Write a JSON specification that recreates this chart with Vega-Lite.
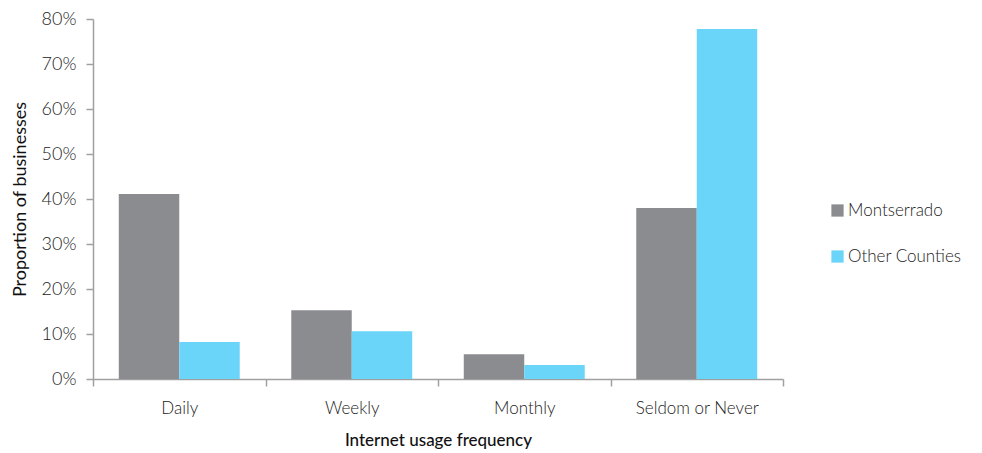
{
  "$schema": "https://vega.github.io/schema/vega-lite/v6.json",
  "width": 690,
  "height": 360,
  "autosize": {"type": "none"},
  "padding": {"left": 93, "top": 19, "right": 199, "bottom": 74},
  "background": "white",
  "data": {"values": [
    {"freq": "Daily", "group": "Montserrado", "value": 0.411},
    {"freq": "Daily", "group": "Other Counties", "value": 0.082},
    {"freq": "Weekly", "group": "Montserrado", "value": 0.153},
    {"freq": "Weekly", "group": "Other Counties", "value": 0.106},
    {"freq": "Monthly", "group": "Montserrado", "value": 0.055},
    {"freq": "Monthly", "group": "Other Counties", "value": 0.031},
    {"freq": "Seldom or Never", "group": "Montserrado", "value": 0.38},
    {"freq": "Seldom or Never", "group": "Other Counties", "value": 0.778}
  ]},
  "config": {
    "view": {"stroke": null},
    "font": "Lato",
    "axis": {"grid": false, "domainColor": "#A0A0A0", "tickColor": "#A0A0A0", "domainWidth": 1.5, "tickWidth": 1.5, "labelColor": "#222", "titleColor": "#111", "labelFont": "Lato", "titleFont": "Lato", "labelFontWeight": 300}
  },
  "mark": {"type": "bar"},
  "encoding": {
    "x": {"field": "freq", "type": "nominal", "sort": ["Daily", "Weekly", "Monthly", "Seldom or Never"],
      "scale": {"paddingInner": 0, "paddingOuter": 0},
      "axis": {"title": "Internet usage frequency", "labelAngle": 0, "labelFontSize": 17, "labelPadding": 14, "titleFontSize": 17, "titleFontWeight": 500, "titlePadding": 16, "tickBand": "extent", "tickSize": 7}},
    "xOffset": {"field": "group", "type": "nominal", "sort": ["Montserrado", "Other Counties"], "scale": {"paddingInner": 0, "paddingOuter": 0.426}},
    "y": {"field": "value", "type": "quantitative",
      "scale": {"domain": [0, 0.8]},
      "axis": {"title": "Proportion of businesses", "format": ".0%", "values": [0, 0.1, 0.2, 0.3, 0.4, 0.5, 0.6, 0.7, 0.8], "labelFontSize": 18, "titleFontSize": 18, "titleFontWeight": 400, "tickSize": 7, "labelPadding": 10, "titlePadding": 12}},
    "color": {"field": "group", "type": "nominal",
      "scale": {"domain": ["Montserrado", "Other Counties"], "range": ["#8B8C90", "#6AD5F8"]},
      "legend": {"title": null, "orient": "none", "legendX": 736, "legendY": 183, "symbolType": "square", "symbolSize": 150, "symbolStrokeWidth": 0, "labelFontSize": 17, "labelColor": "#222", "labelFontWeight": 300, "rowPadding": 28, "labelOffset": 2}}
  }
}
